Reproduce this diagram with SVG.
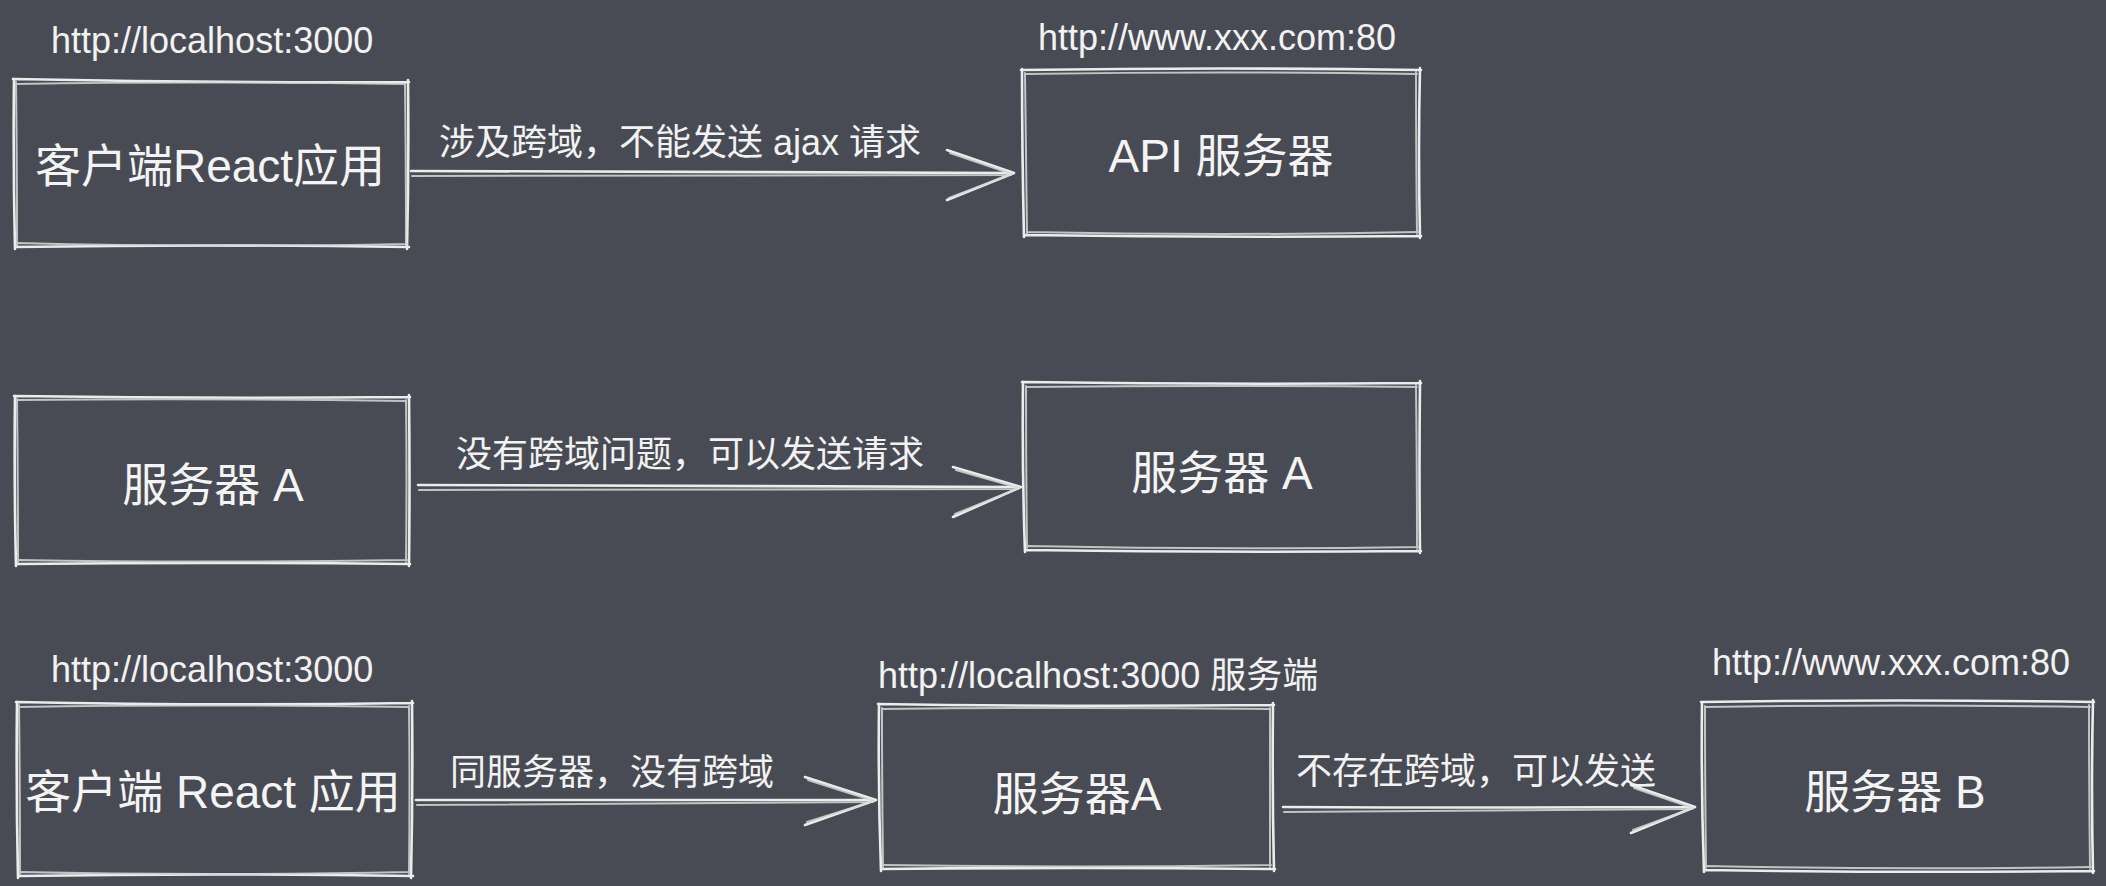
<svg xmlns="http://www.w3.org/2000/svg" width="2106" height="886" viewBox="0 0 2106 886">
<style>
.sk{fill:none;stroke:#ececec;stroke-width:2.6;stroke-linecap:round;stroke-linejoin:round}
.sk2{fill:none;stroke:#d8d8d8;stroke-width:2;stroke-linecap:round;stroke-linejoin:round;opacity:0.85}
.url{font-family:"Liberation Sans","Noto Sans CJK SC",sans-serif;font-size:36px;fill:#f2f2f2}
.node{font-family:"Liberation Sans","Noto Sans CJK SC",sans-serif;font-size:46px;fill:#f4f4f4;text-anchor:middle}
.lbl{font-family:"Liberation Sans","Noto Sans CJK SC",sans-serif;font-size:36px;fill:#f2f2f2}
</style>
<rect x="0" y="0" width="2106" height="886" fill="#494b54"/>

<g id="urls">
<text class="url" x="51" y="53">http://localhost:3000</text>
<text class="url" x="1038" y="50">http://www.xxx.com:80</text>
<text class="url" x="51" y="682">http://localhost:3000</text>
<text class="url" x="878" y="688">http://localhost:3000 服务端</text>
<text class="url" x="1712" y="675">http://www.xxx.com:80</text>
</g>

<g id="node-client1">
<path class="sk" d="M13 79 Q210 83 409 82 M408 80 Q409 165 407 249 M409 247 Q210 244 15 247 M15 249 Q13 165 14 79"/>
<path class="sk2" d="M16 84 Q200 81 405 84 M405 84 Q406 160 406 246 M407 244 Q200 248 18 243 M17 246 Q17 160 16 82"/>
<text class="node" x="210" y="182">客户端React应用</text>
</g>

<g id="node-api">
<path class="sk" d="M1021 70 Q1220 67 1421 70 M1420 68 Q1418 150 1420 238 M1421 236 Q1220 238 1024 235 M1024 237 Q1022 150 1022 69"/>
<path class="sk2" d="M1025 74 Q1220 71 1417 74 M1416 72 Q1416 150 1417 234 M1418 232 Q1220 236 1027 232 M1027 234 Q1026 150 1025 73"/>
<text class="node" x="1221" y="172">API 服务器</text>
</g>

<g id="node-serverA-left">
<path class="sk" d="M14 396 Q210 399 410 397 M409 395 Q410 480 409 566 M410 564 Q210 562 16 564 M16 566 Q14 480 15 396"/>
<path class="sk2" d="M17 400 Q200 398 406 401 M406 400 Q407 480 406 562 M407 560 Q200 563 19 560 M18 562 Q18 480 17 399"/>
<text class="node" x="213" y="501">服务器 A</text>
</g>

<g id="node-serverA-right">
<path class="sk" d="M1022 382 Q1220 385 1421 383 M1420 381 Q1419 470 1420 553 M1421 551 Q1220 553 1025 550 M1025 552 Q1022 470 1023 382"/>
<path class="sk2" d="M1026 387 Q1220 385 1417 387 M1416 385 Q1417 470 1417 549 M1418 547 Q1220 550 1028 546 M1027 548 Q1026 470 1026 386"/>
<text class="node" x="1222" y="489">服务器 A</text>
</g>

<g id="node-client2">
<path class="sk" d="M16 702 Q210 706 413 703 M412 701 Q413 790 411 878 M413 876 Q210 873 18 876 M18 878 Q16 790 17 702"/>
<path class="sk2" d="M19 707 Q200 704 409 707 M409 706 Q410 790 409 874 M410 872 Q200 876 21 872 M20 874 Q20 790 19 705"/>
<text class="node" x="213" y="808">客户端 React 应用</text>
</g>

<g id="node-serverA-mid">
<path class="sk" d="M878 704 Q1075 707 1274 705 M1273 703 Q1272 790 1274 871 M1275 869 Q1075 867 881 869 M881 871 Q878 790 879 704"/>
<path class="sk2" d="M882 709 Q1075 707 1270 709 M1270 708 Q1270 790 1270 867 M1271 865 Q1075 868 884 865 M883 867 Q882 790 882 708"/>
<text class="node" x="1077" y="810">服务器A</text>
</g>

<g id="node-serverB">
<path class="sk" d="M1701 702 Q1900 699 2094 702 M2093 700 Q2091 790 2093 873 M2094 871 Q1900 873 1704 870 M1704 872 Q1701 790 1702 702"/>
<path class="sk2" d="M1705 707 Q1900 704 2090 707 M2089 705 Q2089 790 2090 869 M2091 867 Q1900 870 1707 866 M1706 868 Q1705 790 1705 706"/>
<text class="node" x="1895" y="808">服务器 B</text>
</g>

<g id="connectors">
<path class="sk" d="M411 171 Q700 173 1014 173 M947 150 L1014 173 L947 200"/>
<path class="sk2" d="M412 176 Q700 175 1011 175 M950 153 L1012 174 L949 198"/>
<path class="sk" d="M418 485 Q700 486 1021 487 M953 467 L1021 487 L953 517"/>
<path class="sk2" d="M419 490 Q700 489 1018 489 M956 470 L1019 488 L955 514"/>
<path class="sk" d="M416 800 Q640 801 876 800 M805 777 L876 800 L805 825"/>
<path class="sk2" d="M417 805 Q640 804 873 802 M808 780 L874 801 L807 822"/>
<path class="sk" d="M1283 807 Q1490 808 1695 807 M1631 785 L1695 807 L1631 833"/>
<path class="sk2" d="M1284 812 Q1490 811 1692 809 M1634 788 L1693 808 L1633 830"/>
<text class="lbl" x="439" y="155">涉及跨域，不能发送 ajax 请求</text>
<text class="lbl" x="456" y="467">没有跨域问题，可以发送请求</text>
<text class="lbl" x="450" y="785">同服务器，没有跨域</text>
<text class="lbl" x="1296" y="784">不存在跨域，可以发送</text>
</g>
</svg>
